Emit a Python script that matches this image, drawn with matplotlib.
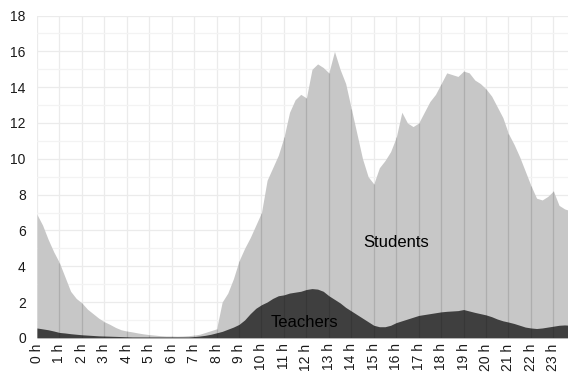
import numpy as np
import matplotlib.pyplot as plt

plt.rcParams['font.family'] = ['Liberation Sans', 'DejaVu Sans']

# time of day in hours, 15 minute steps
hours = np.arange(0, 24, 0.25)

students = [
    6.9, 6.3, 5.5, 4.8, 4.2, 3.4, 2.6, 2.2,
    1.95, 1.6, 1.35, 1.1, 0.9, 0.75, 0.58, 0.45,
    0.38, 0.33, 0.27, 0.22, 0.18, 0.15, 0.12, 0.10,
    0.10, 0.09, 0.10, 0.12, 0.15, 0.20, 0.30, 0.40,
    0.5, 2.0, 2.5, 3.3, 4.3, 5.0, 5.6, 6.3,
    7.0, 8.8, 9.5, 10.2, 11.2, 12.6, 13.3, 13.6,
    13.4, 15.0, 15.3, 15.1, 14.8, 16.0, 15.0, 14.2,
    12.8, 11.4, 10.0, 9.0, 8.6, 9.5, 9.9, 10.4,
    11.2, 12.6, 12.0, 11.8, 12.0, 12.6, 13.2, 13.6,
    14.2, 14.8, 14.7, 14.6, 14.9, 14.8, 14.4, 14.2,
    13.9, 13.5, 12.9, 12.3, 11.4, 10.8, 10.1, 9.3,
    8.5, 7.8, 7.7, 7.9, 8.2, 7.4, 7.2, 7.1,
]

teachers = [
    0.55, 0.50, 0.45, 0.38, 0.30, 0.27, 0.23, 0.20,
    0.17, 0.15, 0.13, 0.11, 0.10, 0.09, 0.08, 0.07,
    0.06, 0.05, 0.05, 0.05, 0.05, 0.05, 0.05, 0.05,
    0.05, 0.05, 0.05, 0.05, 0.07, 0.10, 0.14, 0.20,
    0.28, 0.36, 0.48, 0.60, 0.75, 1.00, 1.35, 1.65,
    1.85, 2.00, 2.20, 2.35, 2.40, 2.50, 2.55, 2.60,
    2.70, 2.75, 2.72, 2.60, 2.35, 2.15, 1.95, 1.70,
    1.50, 1.30, 1.10, 0.90, 0.70, 0.62, 0.62, 0.70,
    0.85, 0.95, 1.05, 1.15, 1.25, 1.30, 1.35, 1.40,
    1.45, 1.48, 1.50, 1.52, 1.58, 1.50, 1.42, 1.35,
    1.28, 1.18, 1.05, 0.95, 0.88, 0.80, 0.70, 0.60,
    0.55, 0.52, 0.55, 0.60, 0.65, 0.70, 0.72, 0.70,
]

tick_labels = [f'{h} h' for h in range(24)]

fig = plt.figure(figsize=(5.68, 3.80), dpi=100)
ax = fig.add_axes([0.065, 0.111, 0.935, 0.848])

ax.set_yticks(np.arange(0, 19, 2))
ax.set_yticks(np.arange(1, 18, 2), minor=True)
ax.set_xticks(range(24))
ax.set_xticklabels(tick_labels, rotation=90)
ax.grid(which='major', color='#ebebeb', linewidth=0.9)
ax.grid(which='minor', axis='y', color='#f3f3f3', linewidth=0.9)
ax.set_axisbelow(True)

ax.fill_between(hours, 0, students, color='#c7c7c7', linewidth=0, zorder=2)
ax.fill_between(hours, 0, teachers, color='#3f3f3f', linewidth=0, zorder=3)

# hour lines visible inside the filled area only
idx = np.arange(4, 96, 4)
ax.vlines(hours[idx], 0, np.array(students)[idx], color='black', alpha=0.12,
          linewidth=0.9, zorder=4)

ax.text(16.0, 5.3, 'Students', fontsize=12, ha='center', va='center', zorder=5)
ax.text(11.9, 0.85, 'Teachers', fontsize=12, ha='center', va='center', zorder=5)

ax.set_xlim(0, 23.65)
ax.set_ylim(0, 18)
for s in ax.spines.values():
    s.set_visible(False)
ax.tick_params(which='both', length=0, labelsize=10, colors='#1a1a1a')
ax.tick_params(axis='y', pad=8)
ax.tick_params(axis='x', pad=4)

fig.savefig('out.png', dpi=100)
